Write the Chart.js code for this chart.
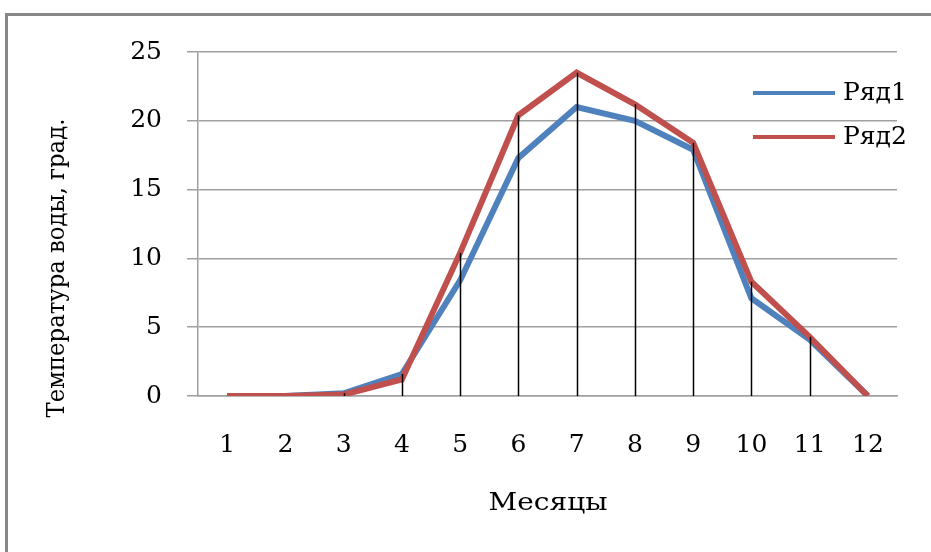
<!DOCTYPE html>
<html lang="ru">
<head>
<meta charset="utf-8">
<title>Температура воды</title>
<script src="https://cdn.jsdelivr.net/npm/chart.js@4/dist/chart.umd.min.js"></script>
<style>
  html, body { margin: 0; padding: 0; background: #fff; }
  #wrap { position: relative; width: 931px; height: 552px; overflow: hidden; }
  #frame {
    position: absolute; left: 5px; top: 13px; right: -10px; bottom: -10px;
    border-top: 3px solid #888; border-left: 3px solid #888;
    pointer-events: none;
  }
  canvas { position: absolute; left: 0; top: 0; }
</style>
</head>
<body>
<div id="wrap">
  <canvas id="chart" width="931" height="552"></canvas>
  <div id="frame"></div>
</div>
<script>
// Months of the year and water temperature per month, two series
const months = ['1', '2', '3', '4', '5', '6', '7', '8', '9', '10', '11', '12'];
const row1 = [0, 0, 0.2, 1.6, 8.4, 17.3, 21.0, 20.0, 17.9, 7.1, 4.1, 0];
const row2 = [0, 0, 0.1, 1.2, 10.4, 20.4, 23.5, 21.2, 18.4, 8.3, 4.3, 0];
const yTicks = [0, 5, 10, 15, 20, 25];

const seriesNames = ['Ряд1', 'Ряд2'];
const seriesColors = ['#4F81BD', '#C0504D'];

const FONT = '"DejaVu Serif", "Liberation Serif", serif';
const GRID = '#a0a0a0';

// Vertical drop lines from the highest point at each month down to the axis
const dropLines = {
  id: 'dropLines',
  afterDatasetsDraw(chart) {
    const { ctx, scales: { x, y } } = chart;
    ctx.save();
    ctx.strokeStyle = '#000';
    ctx.lineWidth = 1.5;
    months.forEach((m, i) => {
      const top = Math.max(row1[i], row2[i]);
      const px = Math.round(x.getPixelForValue(i)) + 0.5;
      ctx.beginPath();
      ctx.moveTo(px, y.getPixelForValue(top));
      ctx.lineTo(px, y.getPixelForValue(0));
      ctx.stroke();
    });
    ctx.restore();
  }
};

// Text drawn with a horizontal stretch factor
function stretchedText(ctx, text, x, y, sx) {
  ctx.save();
  ctx.translate(x, y);
  ctx.scale(sx, 1);
  ctx.fillText(text, 0, 0);
  ctx.restore();
}

// Axis titles and the legend box on the right
const decorations = {
  id: 'decorations',
  afterDraw(chart) {
    const { ctx } = chart;
    ctx.save();
    ctx.fillStyle = '#000';
    ctx.font = '25px ' + FONT;
    ctx.textAlign = 'center';
    ctx.textBaseline = 'middle';
    stretchedText(ctx, 'Месяцы', 548, 503, 1.12);

    ctx.save();
    ctx.translate(57, 268);
    ctx.rotate(-Math.PI / 2);
    stretchedText(ctx, 'Температура воды, град.', 0, 0, 0.91);
    ctx.restore();

    const rows = [93, 137];
    seriesNames.forEach((name, i) => {
      ctx.strokeStyle = seriesColors[i];
      ctx.lineWidth = 4;
      ctx.beginPath();
      ctx.moveTo(753, rows[i]);
      ctx.lineTo(835, rows[i]);
      ctx.stroke();
      ctx.textAlign = 'left';
      ctx.fillText(name, 843, rows[i]);
    });
    ctx.restore();
  }
};

new Chart(document.getElementById('chart'), {
  type: 'line',
  data: {
    labels: months,
    datasets: [
      {
        label: seriesNames[0], data: row1,
        borderColor: seriesColors[0], backgroundColor: seriesColors[0],
        borderWidth: 6, pointRadius: 0, tension: 0, order: 1
      },
      {
        label: seriesNames[1], data: row2,
        borderColor: seriesColors[1], backgroundColor: seriesColors[1],
        borderWidth: 6, pointRadius: 0, tension: 0, order: 0
      }
    ]
  },
  options: {
    responsive: false,
    animation: false,
    events: [],
    layout: { padding: { left: 0, top: 52, right: 34, bottom: 0 } },
    plugins: {
      legend: { display: false },
      tooltip: { enabled: false }
    },
    scales: {
      x: {
        offset: true,
        grid: { display: false },
        border: { display: true, color: GRID, width: 1.5 },
        ticks: { color: '#000', font: { family: FONT, size: 25 }, padding: 26, maxRotation: 0 },
        afterFit(scale) { scale.height = 156; }
      },
      y: {
        min: 0, max: 25,
        afterBuildTicks(scale) { scale.ticks = yTicks.map(v => ({ value: v })); },
        grid: { color: GRID, lineWidth: 1.5, tickLength: 11 },
        border: { display: true, color: GRID, width: 1.5 },
        ticks: { color: '#000', font: { family: FONT, size: 25 }, padding: 25 },
        afterFit(scale) { scale.width = 198; }
      }
    }
  },
  plugins: [dropLines, decorations]
});
</script>
</body>
</html>
